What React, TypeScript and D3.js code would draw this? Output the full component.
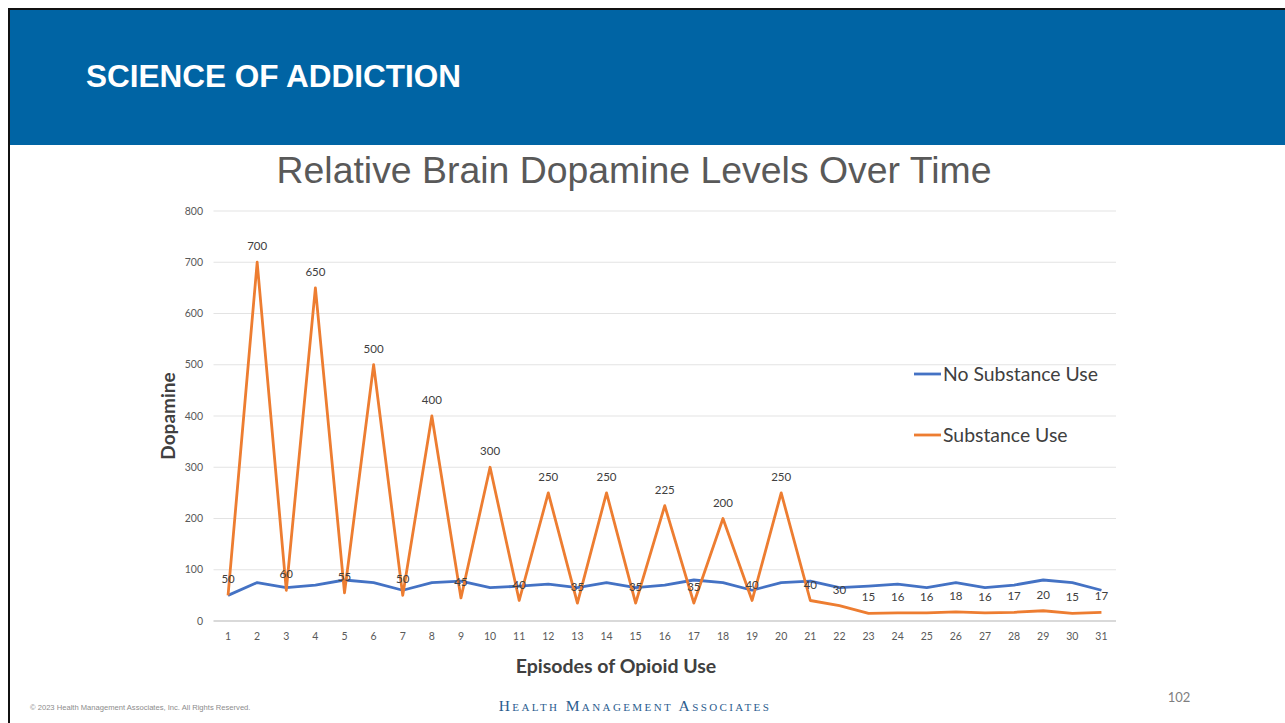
import React from 'react';
import * as d3 from 'd3';

const episodes = d3.range(1, 32).map(String);
const noSubstance = [50, 75, 65, 70, 80, 75, 60, 75, 78, 65, 68, 72, 65, 75, 65, 70, 80, 75, 60, 75, 78, 65, 68, 72, 65, 75, 65, 70, 80, 75, 60];
const substance = [50, 700, 60, 650, 55, 500, 50, 400, 45, 300, 40, 250, 35, 250, 35, 225, 35, 200, 40, 250, 40, 30, 15, 16, 16, 18, 16, 17, 20, 15, 17];
const yTicks = [0, 100, 200, 300, 400, 500, 600, 700, 800];

const W = 1285;
const H = 723;
const plot = { left: 213.5, right: 1116, top: 211, bottom: 621 };
const chartFont = 'Lato, "Open Sans", sans-serif';

const App: React.FC = () => {
  const x = d3.scaleBand<string>().domain(episodes).range([plot.left, plot.right]);
  const cx = (c: string) => (x(c) ?? 0) + x.bandwidth() / 2;
  const y = d3.scaleLinear().domain([0, 800]).range([plot.bottom, plot.top]);

  const line = d3.line<number>()
    .x((_, i) => cx(episodes[i]))
    .y(d => y(d));

  return (
    <svg width={W} height={H} style={{ position: 'absolute', left: 0, top: 0, background: '#fff' }}>
      {/* slide frame + header */}
      <rect x={9} y={9} width={W + 10} height={H + 10} fill="#fff" stroke="#111" strokeWidth={2} />
      <rect x={10} y={10} width={W - 10} height={135} fill="#0064A4" />
      <text x={86} y={87} fill="#fff" fontFamily="Liberation Sans, Arial, sans-serif" fontWeight="bold" fontSize={31.5}>
        SCIENCE OF ADDICTION
      </text>

      {/* title */}
      <text x={634} y={183} textAnchor="middle" fill="#595959" fontFamily="Liberation Sans, Arial, sans-serif" fontSize={37.4}>
        Relative Brain Dopamine Levels Over Time
      </text>

      {/* gridlines + y ticks */}
      {yTicks.map(t => (
        <g key={t}>
          <line x1={plot.left} x2={plot.right} y1={y(t)} y2={y(t)} stroke={t === 0 ? '#d9d9d9' : '#e3e3e3'} strokeWidth={t === 0 ? 2 : 1} />
          <text x={203} y={y(t) + 3.5} textAnchor="end" fill="#595959" fontFamily={chartFont} fontSize={10.5}>{t}</text>
        </g>
      ))}

      {/* x ticks */}
      {episodes.map(c => (
        <text key={c} x={cx(c)} y={640} textAnchor="middle" fill="#595959" fontFamily={chartFont} fontSize={10.5}>{c}</text>
      ))}

      {/* axis titles */}
      <text transform="translate(175,416) rotate(-90)" textAnchor="middle" fill="#404040" fontFamily={chartFont} fontWeight="bold" fontSize={19}>
        Dopamine
      </text>
      <text x={616} y={673} textAnchor="middle" fill="#404040" fontFamily={chartFont} fontWeight="bold" fontSize={19.5}>
        Episodes of Opioid Use
      </text>

      {/* series */}
      <path d={line(noSubstance) ?? ''} fill="none" stroke="#4472C4" strokeWidth={2.8} strokeLinejoin="round" />
      <path d={line(substance) ?? ''} fill="none" stroke="#ED7D31" strokeWidth={2.8} strokeLinejoin="round" />

      {/* data labels */}
      {substance.map((v, i) => (
        <text key={i} x={cx(episodes[i])} y={y(v) - 12} textAnchor="middle" fill="#404040" fontFamily={chartFont} fontSize={11.5}>{v}</text>
      ))}

      {/* legend */}
      <line x1={914} x2={941} y1={374} y2={374} stroke="#4472C4" strokeWidth={2.8} />
      <text x={943} y={380.5} fill="#404040" fontFamily={chartFont} fontSize={19.4}>No Substance Use</text>
      <line x1={914} x2={941} y1={435} y2={435} stroke="#ED7D31" strokeWidth={2.8} />
      <text x={943} y={441.5} fill="#404040" fontFamily={chartFont} fontSize={19.4}>Substance Use</text>

      {/* footer */}
      <text x={30} y={710} fill="#8c8c8c" fontFamily="Liberation Sans, sans-serif" fontSize={7.6}>
        © 2023 Health Management Associates, Inc. All Rights Reserved.
      </text>
      <text x={635} y={711} textAnchor="middle" fill="#2c5d8f" fontFamily="Liberation Serif, serif" fontSize={15.5} letterSpacing={2.4} style={{ fontVariant: 'small-caps' }}>
        Health Management Associates
      </text>
      <text x={1179} y={702} textAnchor="middle" fill="#7f7f7f" fontFamily={chartFont} fontSize={13}>102</text>
    </svg>
  );
};

export default App;
